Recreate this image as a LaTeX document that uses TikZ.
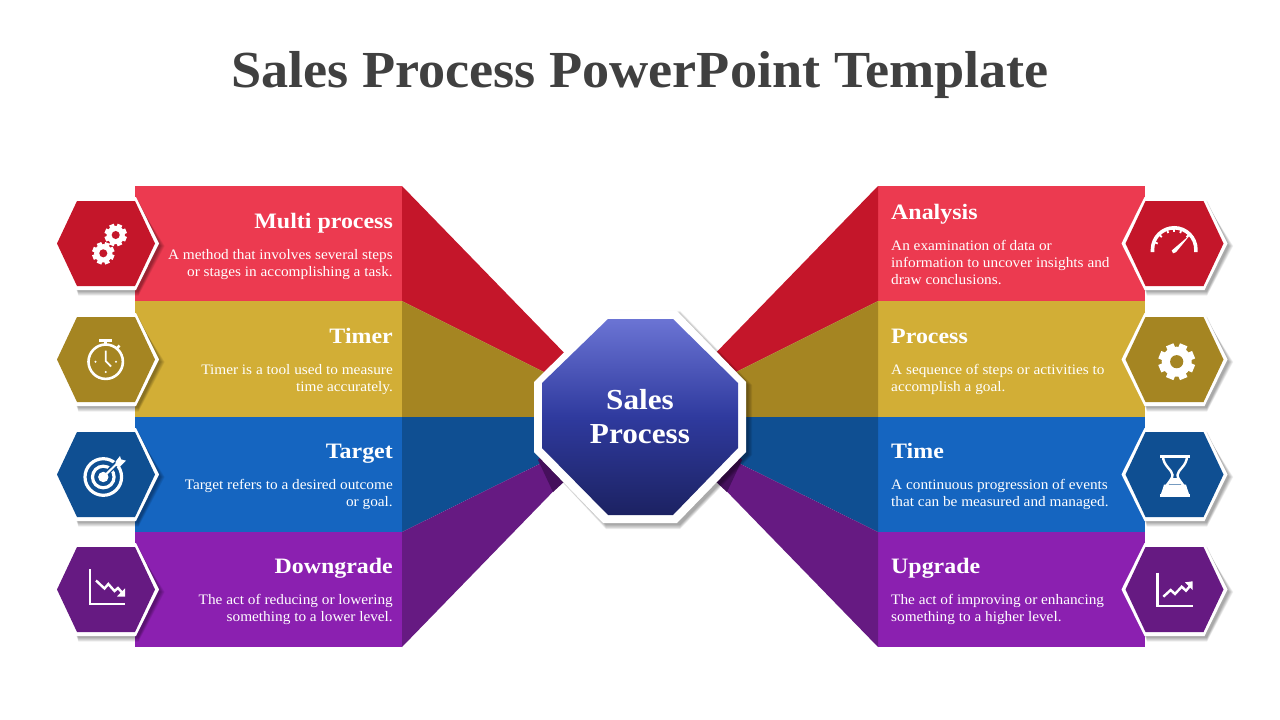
\documentclass[tikz,border=0pt]{standalone}
\usepackage{fontspec}
\setmainfont{Liberation Serif}
\newfontfamily\titlefont[FakeStretch=1.043]{Liberation Serif}
\newfontfamily\headfont[FakeStretch=1.087]{Liberation Serif}
\newfontfamily\bodyfont[FakeStretch=1.055]{Liberation Serif}
\newfontfamily\midfont[FakeStretch=1.077]{Liberation Serif}
\definecolor{redL}{HTML}{EC3A50}\definecolor{redD}{HTML}{C4162A}
\definecolor{golL}{HTML}{D2AE36}\definecolor{golD}{HTML}{A58522}
\definecolor{bluL}{HTML}{1565C0}\definecolor{bluD}{HTML}{0F4F92}
\definecolor{purL}{HTML}{8B20B0}\definecolor{purD}{HTML}{661A82}
\definecolor{purS}{HTML}{45105C}
\definecolor{ink}{HTML}{404040}
\definecolor{octA}{HTML}{6B74D4}\definecolor{octB}{HTML}{2F3A9E}\definecolor{octC}{HTML}{1C2262}
\pgfdeclareverticalshading{octs}{100bp}{color(0bp)=(octC);color(25bp)=(octC);color(50bp)=(octB);color(75bp)=(octA);color(100bp)=(octA)}
\tikzset{
 head/.style={text=white,font=\headfont\fontsize{22}{24}\selectfont\bfseries,inner sep=0pt},
 bodyL/.style={text=white,font=\bodyfont\fontsize{14.5}{17}\selectfont,align=right,anchor=north east,inner sep=0pt},
 bodyR/.style={text=white,font=\bodyfont\fontsize{14.5}{17}\selectfont,align=left,anchor=north west,inner sep=0pt},
 ico/.style={draw=white,line width=2.6pt,fill=none},
 softshade/.style={black,opacity=.055},
}
\newcommand{\hexpath}[5]{(#1-#3,#2)--(#1-#4,#2-#5)--(#1+#4,#2-#5)--(#1+#3,#2)--(#1+#4,#2+#5)--(#1-#4,#2+#5)--cycle}
\newcommand{\hexa}[3]{%
 \foreach \k in {0,...,6}{\fill[softshade] \hexpath{#1+2.5}{#2+2.5}{52+\k*.7}{30}{45.5+\k*.7};}
 \fill[white] \hexpath{#1}{#2}{53}{30}{46.5};
 \fill[#3] \hexpath{#1}{#2}{49}{29}{42.5};}
\newcommand{\gearicon}[4]{%
 \foreach \a in {0,45,...,315}{\draw[white,line width=#3*.44pt] ({#1+#3*.6*cos(\a+22.5)},{#2+#3*.6*sin(\a+22.5)})--({#1+#3*cos(\a+22.5)},{#2+#3*sin(\a+22.5)});}
 \fill[white] (#1,#2) circle[radius=#3*.82];
 \fill[#4] (#1,#2) circle[radius=#3*.36];}
\begin{document}
\begin{tikzpicture}[x=1pt,y=-1pt]
\useasboundingbox (0,0) rectangle (1280,720);
\fill[white] (0,0) rectangle (1280,720);
\node[text=ink,font=\titlefont\fontsize{52}{56}\selectfont\bfseries,inner sep=0pt] (title) at (640,75) {Sales Process PowerPoint Template};
% panels
\fill[redL] (135,186) rectangle (402,301);
\fill[golL] (135,301) rectangle (402,417);
\fill[bluL] (135,417) rectangle (402,532);
\fill[purL] (135,532) rectangle (402,647);
\fill[redL] (878,186) rectangle (1145,301);
\fill[golL] (878,301) rectangle (1145,417);
\fill[bluL] (878,417) rectangle (1145,532);
\fill[purL] (878,532) rectangle (1145,647);
% wedges
\fill[redD] (402,186)--(402,301)--(600,400)--(575,364)--cycle;
\fill[golD] (402,301)--(402,417)--(600,417)--(600,400)--cycle;
\fill[bluD] (402,417)--(402,532)--(600,434)--(600,417)--cycle;
\fill[purD] (402,532)--(402,647)--(575,469)--(600,434)--cycle;
\fill[redD] (878,186)--(878,301)--(680,400)--(705,364)--cycle;
\fill[golD] (878,301)--(878,417)--(680,417)--(680,400)--cycle;
\fill[bluD] (878,417)--(878,532)--(680,434)--(680,417)--cycle;
\fill[purD] (878,532)--(878,647)--(705,469)--(680,434)--cycle;
\fill[purS] (538,460)--(553,492)--(566,480)--(545,452)--cycle;
\fill[purS] (742,460)--(727,492)--(714,480)--(735,452)--cycle;
% octagon
\foreach \k in {0,...,6}{
 \fill[softshade] (609,315-\k*.7)--(680,315-\k*.7)--(748+\k*.7,385)--(748+\k*.7,455)--(680,525+\k*.7)--(606,525+\k*.7)--(537,455)--(537,385)--cycle;}
\fill[white] (606,311)--(677,311)--(746,382)--(746,452)--(677,523)--(603,523)--(534,452)--(534,382)--cycle;
\path[shading=octs] (608,319)--(673,319)--(738,383)--(738,448)--(673,515)--(608,515)--(542,448)--(542,383)--cycle;
\node[text=white,font=\midfont\fontsize{29}{31.5}\selectfont\bfseries,align=center,inner sep=0pt] (center) at (640,416.5) {Sales\\[2.5pt]Process};
% hexagons
\hexa{106}{243.5}{redD}\hexa{106}{359.5}{golD}\hexa{106}{474.5}{bluD}\hexa{106}{589.5}{purD}
\hexa{1174.5}{243.5}{redD}\hexa{1174.5}{359.5}{golD}\hexa{1174.5}{474.5}{bluD}\hexa{1174.5}{589.5}{purD}
% text left
\node[head,anchor=base east] (h1) at (393,228.5) {Multi process};
\node[bodyL] (d1) at (393,249.5) {A method that involves several steps\\or stages in accomplishing a task.};
\node[head,anchor=base east] (h2) at (393,343.5) {Timer};
\node[bodyL] (d2) at (393,364.5) {Timer is a tool used to measure\\time accurately.};
\node[head,anchor=base east] (h3) at (393,458.5) {Target};
\node[bodyL] (d3) at (393,479.5) {Target refers to a desired outcome\\or goal.};
\node[head,anchor=base east] (h4) at (393,573.5) {Downgrade};
\node[bodyL] (d4) at (393,594.5) {The act of reducing or lowering\\something to a lower level.};
% text right
\node[head,anchor=base west] (h5) at (891,219.5) {Analysis};
\node[bodyR] (d5) at (891,240.5) {An examination of data or\\information to uncover insights and\\draw conclusions.};
\node[head,anchor=base west] (h6) at (891,343.5) {Process};
\node[bodyR] (d6) at (891,364.5) {A sequence of steps or activities to\\accomplish a goal.};
\node[head,anchor=base west] (h7) at (891,458.5) {Time};
\node[bodyR] (d7) at (891,479.5) {A continuous progression of events\\that can be measured and managed.};
\node[head,anchor=base west] (h8) at (891,573.5) {Upgrade};
\node[bodyR] (d8) at (891,594.5) {The act of improving or enhancing\\something to a higher level.};
% icons: gears
\gearicon{115.7}{235}{11.2}{redD}
\gearicon{103.3}{253.3}{11.2}{redD}
% timer
\draw[ico] (105.7,361.7) circle[radius=17.2];
\draw[ico] (99,340.5)--(112.3,340.5) (105.7,340.5)--(105.7,344);
\draw[ico] (116.5,349)--(119.5,345.5);
\draw[ico,line width=1.8pt] (105.7,350.5)--(105.7,361)--(111,366.5);
\fill[white] (95.5,361.7) circle[radius=1.1] (116,361.7) circle[radius=1.1] (105.7,372) circle[radius=1.1];
% target
\draw[ico,line width=3.2pt] (103.3,477) circle[radius=18.3];
\draw[ico,line width=3.2pt] (103.3,477) circle[radius=10.8];
\draw[bluD,line width=5pt] (107,473)--(120,460);
\fill[white] (103.3,477) circle[radius=5.2];
\draw[ico,line width=2pt] (103.3,477)--(118,462.5);
\fill[white] (115.5,461.7)--(120,456)--(121,459.3)--(126,460.7)--(120,466.7)--(116,466)--cycle;
% gauge
\draw[white,line width=3.6pt] (1152.5,252)--(1152.5,249.5) arc[start angle=180,end angle=0,radius=21.7,y radius=-21.7]--(1195.9,252);
\foreach \a in {200,225,250,270,290,315}{\draw[white,line width=1.8pt] ({1174.2+21*cos(\a)},{249.5+21*sin(\a)})--({1174.2+17.5*cos(\a)},{249.5+17.5*sin(\a)});}
\fill[white] (1190.5,234.5)--(1176,252.2)--(1173,253.3)--(1171.7,250.5)--cycle;
% process gear
\gearicon{1176.7}{361.7}{18.3}{golD}
% hourglass
\fill[white] (1160,454.5) rectangle (1190,457.8);
\fill[white] (1160,494) rectangle (1190,497);
\draw[ico,line width=2.4pt] (1163,456) .. controls (1163,466) and (1172.5,470) .. (1172.5,475) .. controls (1172.5,480) and (1164,486) .. (1162,495);
\draw[ico,line width=2.4pt] (1187,456) .. controls (1187,466) and (1177.5,470) .. (1177.5,475) .. controls (1177.5,480) and (1186,486) .. (1188,495);
\fill[white] (1164,484.5)--(1186,484.5)--(1189,495)--(1161,495)--cycle;
\fill[white] (1172,478) -- (1178,478)--(1181,484)--(1169,484)--cycle;
% downgrade chart
\draw[ico,line width=2.4pt] (90,569.3)--(90,604)--(125,604);
\draw[ico,line width=2.4pt] (96,580.5)--(104.5,588.5)--(108.3,584)--(114.5,591)--(118,588)--(122,592.5);
\fill[white] (125,588.3)--(125,596.5)--(117,596.5)--cycle;
% upgrade chart
\draw[ico,line width=2.4pt] (1157.3,572.7)--(1157.3,606)--(1192.7,606);
\draw[ico,line width=2.4pt] (1163.3,596.7)--(1170.7,590)--(1175,594)--(1181.7,586.7)--(1186,590.7)--(1190,586);
\fill[white] (1185,582.3)--(1192.7,581.3)--(1192.7,590)--cycle;
\end{tikzpicture}
\end{document}
